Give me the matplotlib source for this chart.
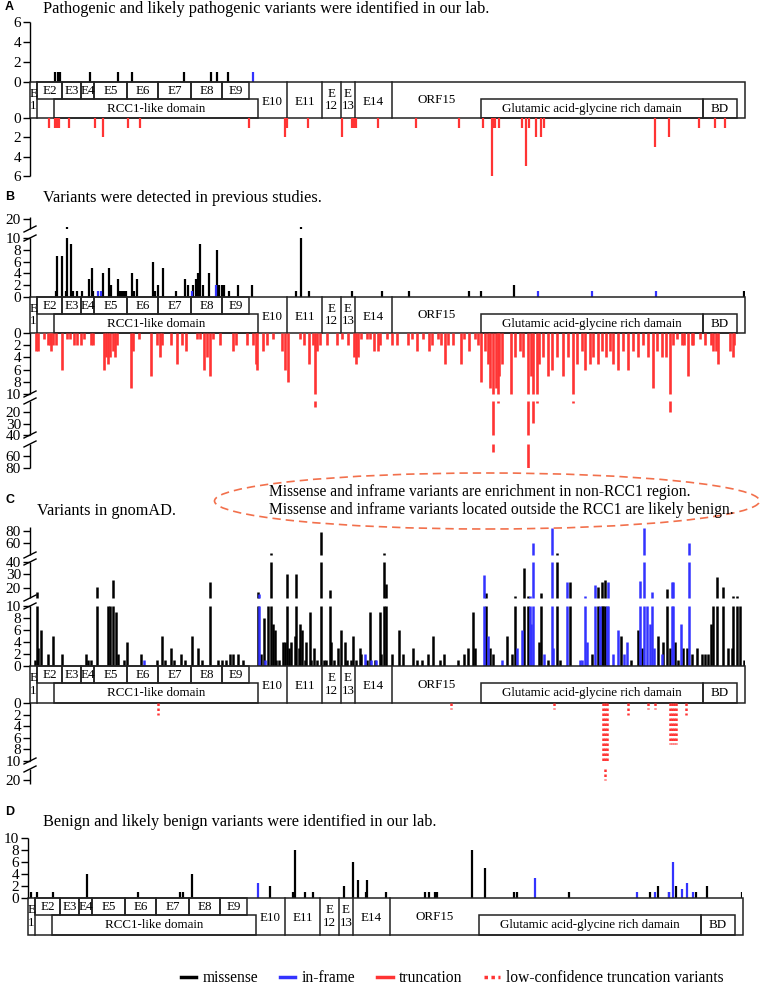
import numpy as np
import matplotlib
matplotlib.use('Agg')
import matplotlib.pyplot as plt
from matplotlib.patches import Rectangle, Ellipse
from matplotlib.lines import Line2D

## Data (x = position along the transcript, scaled 0..715; n = number of variants)
# gene structure
exon_edges = [0, 6.7, 32, 51, 64, 97, 128, 161, 192, 219]   # E1..E9 (top row)
exon_names = ['E2', 'E3', 'E4', 'E5', 'E6', 'E7', 'E8', 'E9']
full_seps = [257, 292, 311, 325, 362]                      # E10|E11|E12|E13|E14|ORF15
rcc1 = (24, 228)
glu = (451, 673)
bd = (673, 707)
gene_len = 715

# A: pathogenic / likely pathogenic (our lab)
A_mis_x = [25, 27.5, 30, 60, 88, 102, 154, 181, 187, 198]
A_mis_n = [1, 1, 1, 1, 1, 1, 1, 1, 1, 1]
A_inf_x = [223]
A_inf_n = [1]
A_tr_x = [19, 25, 27, 29, 39, 65, 73, 98, 110, 219, 255, 257, 278, 312, 322, 324, 326, 348,
          386, 429, 453, 462, 463, 465, 469, 492, 496, 499, 506, 511, 514, 625, 639, 669, 685, 695]
A_tr_n = [1, 1, 1, 1, 1, 1, 2, 1, 1, 1, 2, 1, 1, 2, 1, 1, 1, 1,
          1, 1, 1, 6, 1, 1, 1, 1, 5, 1, 2, 2, 1, 3, 2, 1, 1, 1]

# B: previous studies
B_mis_x = [25.7, 26.7, 32.3, 35.7, 37.3, 40.7, 42.7, 46.7, 51.7, 58.7, 61.7, 63.3, 73, 79, 80.7,
           87.7, 90, 92, 94, 96, 102.3, 104, 107.3, 122.7, 125, 127.7, 133.3, 145.7, 155, 158.3,
           162.7, 165.7, 168, 170.3, 172.7, 179.3, 187.3, 189.3, 191.7, 194, 198.7, 208.3, 221.7,
           265.7, 270.7, 279.3, 322, 352, 379, 439, 451, 484, 714]
B_mis_n = [1, 7, 7, 1, 12, 9, 1, 1, 1, 3, 5, 1, 4, 5, 2,
           3, 1, 1, 1, 1, 4, 1, 3, 6, 1, 2, 5, 1, 3, 2,
           2, 3, 4, 9, 2, 4, 8, 2, 2, 2, 1, 2, 2,
           1, 12, 1, 1, 1, 1, 1, 1, 2, 1]
B_inf_x = [68, 71, 161.7, 186, 508, 562, 626]
B_inf_n = [1, 1, 1, 2, 1, 1, 1]
B_tr_x = [6, 7.7, 14.3, 17.7, 20, 21, 23.3, 26, 32.3, 36.7, 40, 44, 46.7, 50.7, 54, 60.7, 63.3,
          74, 76, 77.7, 80, 82.7, 85, 87.3, 100.7, 102.7, 109.3, 121, 126.7, 130, 132, 141, 146.7,
          151.7, 155.7, 166.7, 170, 174, 176.7, 180, 183.3, 190, 203.3, 206, 216.7, 223.3, 225.7,
          227, 232.7, 236.7, 243.3, 251.7, 255.3, 257.7, 270, 274.3, 279.3, 283.3, 285, 287.3, 290,
          296.7, 307.3, 311.7, 318.3, 324.3, 325.7, 327.7, 331, 336.7, 340, 344, 348.3,
          350, 357.3, 361.7, 366.7, 378.3, 382.3, 386.7, 392.7, 399.3, 401.7, 408.3, 411, 415,
          418.3, 423.3, 431, 434.3, 439.3, 445, 448.3, 451, 455, 457.7, 460, 463.3, 466, 468.3,
          469.3, 471.7, 481, 485, 490, 493.3, 498.3, 501, 502.7, 506.7, 509.3, 513.3, 518.3, 521.7,
          526.7, 532.7, 538.3, 543.3, 546.7, 551.7, 555, 560, 563.3, 568.3, 571.7, 576, 580, 583.3,
          588.3, 593.3, 598.3, 603.3, 608.3, 613.3, 618.3, 622.7, 626.7, 631.7, 636, 640, 642.7,
          646.7, 651.7, 654, 658.3, 661.7, 663.3, 670, 675, 681, 683.3, 686, 687.7, 700, 702.7,
          704, 716.7]
B_tr_n = [3, 3, 1, 2, 2, 3, 2, 2, 6, 1, 1, 2, 2, 2, 1, 2, 2,
          6, 4, 5, 4, 3, 4, 2, 9, 3, 1, 7, 2, 4, 2, 2, 5,
          2, 3, 1, 1, 6, 4, 7, 1, 2, 3, 2, 2, 2, 5,
          6, 3, 2, 1, 3, 6, 8, 1, 2, 5, 2, 15, 3, 2,
          2, 2, 1, 2, 4, 5, 4, 1, 1, 1, 3, 3,
          2, 1, 2, 2, 2, 1, 3, 1, 3, 2, 1, 2, 5,
          2, 2, 5, 1, 3, 1, 2, 8, 3, 5, 9, 53, 9, 12,
          7, 5, 10, 4, 3, 4, 80, 7, 29, 12, 5, 4, 7, 6,
          4, 7, 4, 12, 5, 3, 6, 5, 4, 5, 3, 4, 3, 5,
          6, 3, 6, 3, 4, 2, 4, 9, 3, 4, 4, 20, 2,
          1, 2, 2, 7, 2, 2, 1, 2, 2, 3, 3, 5, 3, 4,
          2, 2]

# C: gnomAD
C_mis_x = [4.7, 7, 8, 10.7, 18, 23, 32.3, 55.7, 58, 61.3, 67.3, 78, 79.7, 83, 85.7, 88, 94, 97.3,
           111.3, 127, 132, 134.7, 140.7, 143.7, 151.3, 155.3, 162.3, 168, 172, 179.7, 188, 192.3,
           196.3, 199.7, 203, 208, 213, 228, 231.3, 234, 238, 241.3, 243, 244.7, 246.3, 248.7, 253,
           255.3, 257.3, 259, 261.3, 264.7, 266.3, 268.7, 269.7, 272, 274.7, 276.3, 279.7, 281.3,
           284, 287.3, 290.7, 294, 296.3, 299.7, 301.3, 304, 308, 311.3, 314.7, 317.3, 320.7, 323,
           326.3, 329.7, 331.3, 337.3, 339.7, 344.7, 349.7, 351.3, 354, 356.3,
           361.7, 369.3, 373.3, 383.3, 386.7, 391.7, 398.3, 403.3, 410, 414.3, 427.7, 434.3, 438.3,
           442.7, 445, 456, 460, 463.3, 477.3, 481.7, 485, 494.3, 498.3, 509.3, 511, 517.7, 526.7,
           530, 540, 561.7, 567.7, 571.7, 573.3, 575, 591, 601, 607.7, 612.3, 628.3, 633.3, 636.7,
           640, 645, 648.3, 653.3, 656.7, 661.7, 666.7, 671.7, 675, 678.3, 681, 683.3, 686.7,
           693.3, 698.3, 701.7, 703.3, 706.7, 710, 714.3]
C_mis_n = [1, 16, 3, 6, 2, 5, 2, 2, 1, 1, 21, 10, 10, 26, 9, 2, 1, 4,
           2, 1, 5, 1, 3, 1, 2, 1, 5, 3, 1, 24, 1, 1,
           1, 2, 2, 2, 1, 16, 2, 8, 10, 44, 7, 6, 1, 1, 4,
           4, 30, 3, 4, 5, 30, 3, 7, 6, 1, 4, 9, 1,
           3, 1, 78, 1, 1, 18, 4, 1, 3, 6, 4, 1, 1, 5,
           1, 3, 2, 1, 9, 1, 9, 2, 44, 23,
           2, 6, 2, 3, 1, 1, 2, 5, 1, 2, 1, 2, 3,
           9, 3, 15, 3, 2, 5, 2, 12, 35, 12, 4, 15, 1, 44,
           1, 24, 2, 21, 24, 10, 26, 5, 1, 6, 3, 5, 4, 19,
           3, 4, 1, 3, 3, 2, 3, 2, 2, 2, 7, 10, 28,
           21, 3, 3, 12, 12, 10, 1]
C_inf_x = [113.7, 228.7, 234.7, 334.7, 341.3, 346.3, 453.7, 457.7, 471.7, 486.7, 492.3, 500, 501,
           503.3, 514.3, 521.7, 523.3, 536.7, 550, 552.3, 555, 557.3, 565, 570, 576.7, 578.3,
           583.3, 587.7, 594.3, 596.7, 610, 614, 616.7, 620, 622.3, 624.3, 631.7, 641.7, 643.3,
           651, 659]
C_inf_n = [1, 14, 1, 2, 1, 1, 29, 5, 1, 3, 6, 12, 7,
           60, 2, 85, 3, 24, 1, 1, 12, 4, 22, 10, 10, 24,
           2, 6, 2, 4, 25, 85, 10, 7, 16, 3, 2, 24, 24,
           7, 60]
C_low_x = [128, 421, 524, 573, 575, 577, 598, 618, 625, 640, 642, 644, 646, 656]
C_low_n = [2, 1, 1, 10, 20, 10, 2, 1, 1, 7, 7, 7, 7, 2]

# D: benign / likely benign (our lab)
D_mis_x = [3, 9, 25, 59, 110, 152, 155, 164, 242, 265, 267, 277, 285, 316, 325, 330, 338, 339,
           358, 397, 401, 407, 409, 444, 457, 486, 489, 541, 622, 630, 641, 648, 668, 679, 714]
D_mis_n = [1, 1, 1, 4, 1, 1, 1, 4, 2, 1, 8, 1, 1, 2, 6, 3, 1, 3,
           1, 1, 1, 1, 1, 8, 5, 1, 1, 1, 1, 2, 1, 2, 1, 2, 1]
D_inf_x = [230, 507, 609, 627, 641, 645, 654, 659, 665]
D_inf_n = [2.5, 3.3, 1, 1, 1, 6, 1.5, 2.5, 1]

## Styling
W, H = 760, 986
RED = '#ff3434'
BLUE = '#3333ff'
BLACK = '#000000'
EPS = 1e-6
TITLE_FS = 11.7
TICK_FS = 11
GENE_FS = 9.4
plt.rcParams['font.family'] = 'Liberation Serif'
fig = plt.figure(figsize=(W / 100, H / 100), dpi=100)


def px_axes(x0, y0, x1, y1):
    return fig.add_axes([x0 / W, 1 - y1 / H, (x1 - x0) / W, (y1 - y0) / H])


def fig_line(xs, ys, **kw):
    fig.add_artist(Line2D([x / W for x in xs], [1 - y / H for y in ys],
                          transform=fig.transFigure, **kw))


def bar_axes(x0, x1, yzero, vk, dk, vmax, segs, ticks, down=False, xmax=gene_len):
    vk = np.asarray(vk, float)
    dk = np.asarray(dk, float)
    fwd = lambda v: np.interp(v, vk, dk)
    inv = lambda d: np.interp(d, dk, vk)
    dmax = float(fwd(vmax))
    if down:
        ax = px_axes(x0, yzero, x1, yzero + dmax)
    else:
        ax = px_axes(x0, yzero - dmax, x1, yzero)
    ax.set_yscale('function', functions=(fwd, inv))
    ax.set_xlim(0, xmax)
    ax.set_ylim((vmax, 0) if down else (0, vmax))
    for s in ax.spines.values():
        s.set_visible(False)
    ax.patch.set_alpha(0)
    ax.set_xticks([])
    ax.set_yticks(ticks)
    ax.set_yticklabels([str(t) for t in ticks])
    ax.tick_params(axis='y', direction='out', length=5, width=1, pad=1.5, labelsize=TICK_FS)
    # spine drawn piece by piece so the breaks stay open
    for lo, hi in segs:
        ax.plot([0, 0], [lo, min(hi, vmax)], color='k', lw=1, clip_on=False,
                solid_capstyle='butt')
    sgn = 1 if down else -1
    for (lo1, hi1), (lo2, hi2) in zip(segs[:-1], segs[1:]):
        for d in (fwd(hi1), fwd(lo2)):
            y = yzero + sgn * d
            fig_line([x0 - 6, x0 + 6], [y + 3, y - 3], color='k', lw=1)
    ax._segs = segs
    return ax


def draw_bars(ax, x, n, color, lw=1.6, ls='-'):
    x = np.asarray(x, float)
    n = np.asarray(n, float)
    for lo, hi in ax._segs:
        m = n > lo
        if m.any():
            ax.vlines(x[m], lo, np.minimum(n[m], hi), colors=color, lw=lw,
                      linestyles=ls, capstyle='butt')


def gene_band(x0, x1, ytop, ybot, xmax=gene_len):
    ax = px_axes(x0, ytop, x1, ybot)
    ax.set_xlim(0, xmax)
    ax.set_ylim(0, 1)
    ax.axis('off')
    ec = '#222222'
    kw = dict(fill=False, lw=1.1, ec=ec, clip_on=False)
    mid = 0.54
    ax.add_patch(Rectangle((0, 0), gene_len, 1, **kw))
    ax.plot([exon_edges[1]] * 2, [0, 1], color=ec, lw=1.1, clip_on=False)
    for i in range(1, len(exon_edges) - 1):
        a, b = exon_edges[i], exon_edges[i + 1]
        ax.add_patch(Rectangle((a, mid), b - a, 1 - mid, **kw))
        ax.text((a + b) / 2, 0.76, exon_names[i - 1], ha='center', va='center', fontsize=GENE_FS)
    for s in full_seps:
        ax.plot([s, s], [0, 1], color=ec, lw=1.1, clip_on=False)
    ax.add_patch(Rectangle((rcc1[0], 0), rcc1[1] - rcc1[0], mid, **kw))
    ax.add_patch(Rectangle((glu[0], 0), glu[1] - glu[0], mid, **kw))
    ax.add_patch(Rectangle((bd[0], 0), bd[1] - bd[0], mid, **kw))
    ax.text(3.4, 0.5, 'E\n1', ha='center', va='center', fontsize=GENE_FS, linespacing=1.1)
    ax.text(sum(rcc1) / 2, 0.26, 'RCC1-like domain', ha='center', va='center', fontsize=GENE_FS)
    ax.text(242, 0.45, 'E10', ha='center', va='center', fontsize=GENE_FS)
    ax.text(275, 0.45, 'E11', ha='center', va='center', fontsize=GENE_FS)
    ax.text(301.5, 0.5, 'E\n12', ha='center', va='center', fontsize=GENE_FS, linespacing=1.1)
    ax.text(318, 0.5, 'E\n13', ha='center', va='center', fontsize=GENE_FS, linespacing=1.1)
    ax.text(343.5, 0.45, 'E14', ha='center', va='center', fontsize=GENE_FS)
    ax.text(407, 0.5, 'ORF15', ha='center', va='center', fontsize=GENE_FS)
    ax.text(sum(glu) / 2, 0.26, 'Glutamic acid-glycine rich damain', ha='center',
            va='center', fontsize=GENE_FS)
    ax.text(sum(bd) / 2, 0.26, 'BD', ha='center', va='center', fontsize=GENE_FS)
    return ax


def panel_title(letter, y_letter, x_title, y_title, text):
    fig.text(5 / W, 1 - y_letter / H, letter, family='Liberation Sans', fontweight='bold',
             fontsize=9, va='center', ha='left')
    fig.text(x_title / W, 1 - y_title / H, text, fontsize=TITLE_FS, va='center', ha='left')


## Panel A
panel_title('A', 7, 43, 9, 'Pathogenic and likely pathogenic variants were identified in our lab.')
ax = bar_axes(30, 745, 82, [0, 10], [0, 100], 6, [(0, 6)], [0, 2, 4, 6])
draw_bars(ax, A_mis_x, A_mis_n, BLACK)
draw_bars(ax, A_inf_x, A_inf_n, BLUE)
gene_band(30, 745, 82, 118)
ax = bar_axes(30, 745, 118, [0, 10], [0, 96.7], 6, [(0, 6)], [0, 2, 4, 6], down=True)
draw_bars(ax, A_tr_x, A_tr_n, RED)

## Panel B
panel_title('B', 197, 43, 198, 'Variants were detected in previous studies.')
ax = bar_axes(30, 745, 297, [0, 10, 10 + EPS, 30], [0, 59, 68, 88], 22,
              [(0, 10), (10 + EPS, 22)], [0, 2, 4, 6, 8, 10, 20])
draw_bars(ax, B_mis_x, B_mis_n, BLACK)
draw_bars(ax, B_inf_x, B_inf_n, BLUE)
gene_band(30, 745, 297, 333)
ax = bar_axes(30, 745, 333, [0, 10, 10 + EPS, 40, 40 + EPS, 100],
              [0, 61, 68, 102, 111, 147], 80,
              [(0, 10), (10 + EPS, 40), (40 + EPS, 80)],
              [0, 2, 4, 6, 8, 10, 20, 30, 40, 60, 80], down=True)
draw_bars(ax, B_tr_x, B_tr_n, RED, lw=1.9)

## Panel C
panel_title('C', 500, 37, 511, 'Variants in gnomAD.')
fig.add_artist(Ellipse((487 / W, 1 - 501 / H), 545 / W, 56 / H, transform=fig.transFigure,
                       fill=False, ls=(0, (5, 3)), ec='#f2704c', lw=1.2))
fig.text(269 / W, 1 - 492 / H, 'Missense and inframe variants are enrichment in non-RCC1 region.',
         fontsize=11.2, va='center', ha='left')
fig.text(269 / W, 1 - 510 / H,
         'Missense and inframe variants located outside the RCC1 are likely benign.',
         fontsize=11.2, va='center', ha='left')
ax = bar_axes(30, 745, 666, [0, 10, 10 + EPS, 20, 30, 40, 40 + EPS, 100],
              [0, 60, 68, 78, 92, 104, 111, 147], 86,
              [(0, 10), (10 + EPS, 40), (40 + EPS, 86)],
              [0, 2, 4, 6, 8, 10, 20, 30, 40, 60, 80])
draw_bars(ax, C_mis_x, C_mis_n, BLACK, lw=1.8)
draw_bars(ax, C_inf_x, C_inf_n, BLUE, lw=1.8)
gene_band(30, 745, 666, 703)
ax = bar_axes(30, 745, 703, [0, 10, 10 + EPS, 30], [0, 58, 66, 88], 24,
              [(0, 10), (10 + EPS, 24)], [0, 2, 4, 6, 8, 10, 20], down=True)
draw_bars(ax, C_low_x, C_low_n, RED, lw=1.8, ls=(0, (1, 1)))

## Panel D
panel_title('D', 812, 43, 822, 'Benign and likely benign variants were identified in our lab.')
ax = bar_axes(28, 742, 898, [0, 10], [0, 60], 10, [(0, 10)], [0, 2, 4, 6, 8, 10], xmax=714)
draw_bars(ax, D_mis_x, D_mis_n, BLACK)
draw_bars(ax, D_inf_x, D_inf_n, BLUE)
gene_band(28, 742, 898, 935, xmax=714)

## Legend
handles = [Line2D([], [], color=BLACK, lw=2.5), Line2D([], [], color=BLUE, lw=2.5),
           Line2D([], [], color=RED, lw=2.5), Line2D([], [], color=RED, lw=2.5, ls=(0, (1, 1)))]
labels = ['missense', 'in-frame', 'truncation', 'low-confidence truncation variants']
fig.legend(handles, labels, loc='center', bbox_to_anchor=(452 / W, 1 - 978 / H), ncol=4,
           frameon=False, fontsize=11.2, handlelength=1.0, handletextpad=0.4,
           columnspacing=1.4)

fig.savefig('out.png', dpi=100)
